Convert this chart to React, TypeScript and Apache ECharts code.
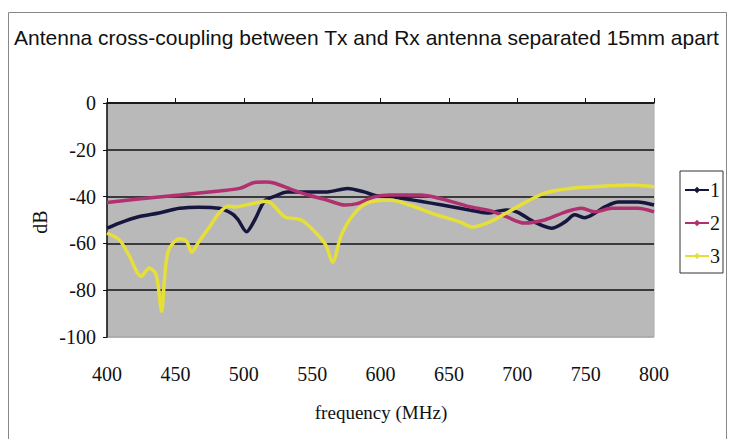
import React, { useEffect, useRef } from "react";
import * as echarts from "echarts";

const title = "Antenna cross-coupling between Tx and Rx antenna separated 15mm apart";
const seriesNames = ["1", "2", "3"];

const freq1 = [400, 409, 423, 438, 453, 467, 482, 492, 496, 502, 508, 515, 522, 532, 547, 561, 576, 588, 596, 607, 629, 645, 665, 678, 692, 700, 713, 725, 735, 742, 749, 757, 764, 774, 788, 800];
const db1 = [-53.5, -51.3, -48.6, -47, -45, -44.5, -45, -47.5, -50, -55, -50, -42, -40, -38, -38, -38, -36.5, -38, -39.5, -40, -42, -43.6, -45.7, -47, -45.7, -46.6, -51, -53.5, -50.8, -47.8, -49, -47, -44.4, -42.3, -42.3, -43.6];

const freq2 = [400, 423, 453, 482, 497, 508, 516, 522, 535, 547, 561, 574, 583, 596, 607, 629, 645, 665, 680, 692, 705, 720, 735, 747, 757, 769, 788, 800];
const db2 = [-42.5, -41, -39.3, -37.6, -36.5, -34, -33.8, -34.2, -37, -39.3, -41.5, -43.6, -43, -40, -39.3, -39.3, -41, -44.3, -46, -48.6, -51.3, -50, -46.6, -45, -46.5, -45, -45, -46.5];

const freq3 = [400, 409, 416, 425, 431, 436, 440, 442, 445, 453, 458, 462, 467, 475, 482, 489, 493, 508, 517, 530, 542, 552, 560, 565, 571, 579, 590, 607, 621, 641, 658, 667, 680, 692, 705, 720, 740, 764, 784, 800];
const db3 = [-55.6, -58.5, -65, -74, -70.5, -73.5, -89, -75.6, -63, -58, -59, -63.7, -59.4, -53, -47, -44, -44.4, -42.8, -42, -48.6, -50, -55, -60.7, -68, -57, -48.6, -42.8, -41.5, -43.6, -47.8, -50.8, -53, -50.8, -47, -42.8, -38.5, -36.4, -35.5, -35, -35.8];

const xTicks = [400, 450, 500, 550, 600, 650, 700, 750, 800];
const yTicks = [0, -20, -40, -60, -80, -100];

const pairs = (xs: number[], ys: number[]) => xs.map((x, i) => [x, ys[i]]);

export default function App() {
  const ref = useRef<HTMLDivElement>(null);
  useEffect(() => {
    if (!ref.current) return;
    const chart = echarts.init(ref.current, undefined, { renderer: "svg" });
    const serif = "'Liberation Serif', 'Times New Roman', serif";
    const colors = ["#16163e", "#b03070", "#e6df38"];
    const datasets = [pairs(freq1, db1), pairs(freq2, db2), pairs(freq3, db3)];
    chart.setOption({
      animation: false,
      backgroundColor: "#ffffff",
      color: colors,
      grid: {
        left: 107,
        right: 77,
        top: 103,
        bottom: 102,
        show: true,
        backgroundColor: "#b9b9b9",
        borderColor: "#a9a9a9",
        borderWidth: 1,
      },
      legend: {
        orient: "vertical",
        left: 680,
        top: 171,
        borderColor: "#333",
        borderWidth: 1,
        padding: [9, 3, 7, 4],
        itemWidth: 24,
        itemHeight: 8,
        itemGap: 13,
        textStyle: { fontFamily: serif, fontSize: 20, color: "#111", padding: [0, 0, 0, -4] },
        data: seriesNames,
      },
      xAxis: [
        {
          type: "value",
          position: "top",
          min: xTicks[0],
          max: xTicks[xTicks.length - 1],
          interval: 50,
          axisLine: { show: true, lineStyle: { color: "#111", width: 1.5 } },
          axisTick: { show: true, inside: false, length: 5, lineStyle: { color: "#111" } },
          axisLabel: { show: false },
          splitLine: { show: false },
        },
        {
          type: "value",
          position: "bottom",
          min: xTicks[0],
          max: xTicks[xTicks.length - 1],
          interval: 50,
          axisLine: { show: false },
          axisTick: { show: false },
          axisLabel: { show: true, margin: 27, fontFamily: serif, fontSize: 20, color: "#111" },
          splitLine: { show: false },
        },
      ],
      yAxis: {
        type: "value",
        min: yTicks[yTicks.length - 1],
        max: yTicks[0],
        interval: 20,
        axisLine: { show: true, lineStyle: { color: "#111", width: 1.5 } },
        axisTick: { show: true, length: 4, lineStyle: { color: "#111" } },
        axisLabel: { margin: 11, fontFamily: serif, fontSize: 20, color: "#111" },
        splitLine: {
          show: true,
          lineStyle: { color: ["#a9a9a9", "#111", "#111", "#111", "#111", "#111"], width: 1.5 },
        },
      },
      graphic: [
        {
          type: "rect",
          shape: { x: 8.5, y: 12.5, width: 718, height: 440 },
          style: { fill: "none", stroke: "#888", lineWidth: 1 },
          silent: true,
        },
        {
          type: "text",
          left: 14,
          top: 27,
          style: {
            text: title,
            fontFamily: "'Liberation Sans', Arial, sans-serif",
            fontSize: 21,
            fill: "#111",
          },
        },
        {
          type: "text",
          x: 40,
          y: 222,
          rotation: Math.PI / 2,
          style: {
            text: "dB",
            fontFamily: serif,
            fontSize: 20,
            fill: "#111",
            align: "center",
            verticalAlign: "middle",
          },
        },
        {
          type: "text",
          x: 381,
          y: 412,
          style: {
            text: "frequency (MHz)",
            fontFamily: serif,
            fontSize: 19,
            fill: "#111",
            align: "center",
            verticalAlign: "middle",
          },
        },
      ],
      series: seriesNames.map((name, i) => ({
        name,
        type: "line",
        xAxisIndex: 0,
        data: datasets[i],
        smooth: 0.3,
        symbol: "diamond",
        symbolSize: 5,
        showSymbol: false,
        lineStyle: { width: 3.5, color: colors[i] },
        itemStyle: { color: colors[i] },
      })),
    });
    return () => chart.dispose();
  }, []);
  return <div ref={ref} style={{ width: 731, height: 439, position: "absolute", left: 0, top: 0 }} />;
}
